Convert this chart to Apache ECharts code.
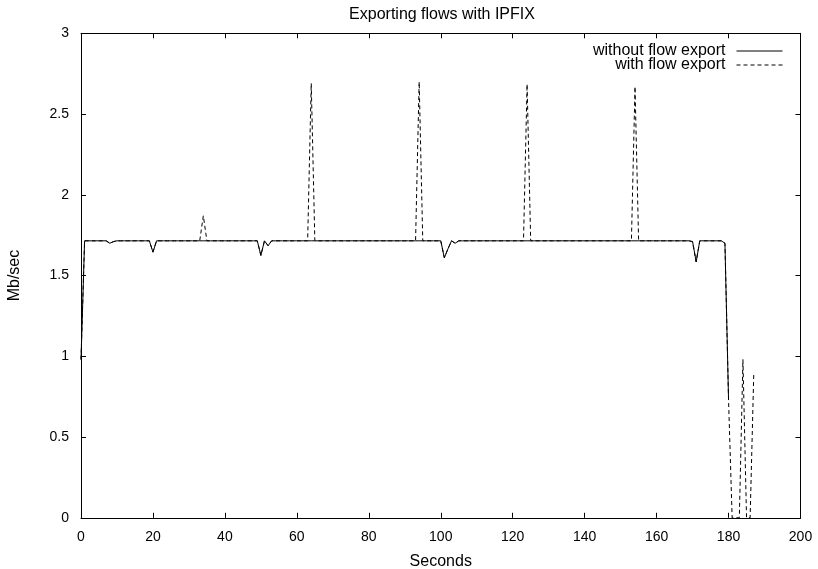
<!DOCTYPE html>
<html>
<head>
<meta charset="utf-8">
<script src="https://cdn.jsdelivr.net/npm/echarts@6/dist/echarts.min.js"></script>
<style>
html,body{margin:0;padding:0;background:#fff;}
#chart{width:818px;height:569px;}
</style>
</head>
<body>
<div id="chart"></div>
<script>
// Throughput (Mb/sec), one sample per second starting at 0 s
var withoutExport = [
  0.98,1.715,1.715,1.715,1.715,1.715,1.715,1.715,1.70,1.71,
  1.715,1.715,1.715,1.715,1.715,1.715,1.715,1.715,1.715,1.715,
  1.645,1.715,1.715,1.715,1.715,1.715,1.715,1.715,1.715,1.715,
  1.715,1.715,1.715,1.715,1.715,1.715,1.715,1.715,1.715,1.715,
  1.715,1.715,1.715,1.715,1.715,1.715,1.715,1.715,1.715,1.715,
  1.625,1.715,1.685,1.715,1.715,1.715,1.715,1.715,1.715,1.715,
  1.715,1.715,1.715,1.715,1.715,1.715,1.715,1.715,1.715,1.715,
  1.715,1.715,1.715,1.715,1.715,1.715,1.715,1.715,1.715,1.715,
  1.715,1.715,1.715,1.715,1.715,1.715,1.715,1.715,1.715,1.715,
  1.715,1.715,1.715,1.715,1.715,1.715,1.715,1.715,1.715,1.715,
  1.715,1.61,1.665,1.715,1.70,1.715,1.715,1.715,1.715,1.715,
  1.715,1.715,1.715,1.715,1.715,1.715,1.715,1.715,1.715,1.715,
  1.715,1.715,1.715,1.715,1.715,1.715,1.715,1.715,1.715,1.715,
  1.715,1.715,1.715,1.715,1.715,1.715,1.715,1.715,1.715,1.715,
  1.715,1.715,1.715,1.715,1.715,1.715,1.715,1.715,1.715,1.715,
  1.715,1.715,1.715,1.715,1.715,1.715,1.715,1.715,1.715,1.715,
  1.715,1.715,1.715,1.715,1.715,1.715,1.715,1.715,1.715,1.715,
  1.71,1.585,1.715,1.715,1.715,1.715,1.715,1.715,1.715,1.70,
  0.73
];
var withExport = [
  0.98,1.715,1.715,1.715,1.715,1.715,1.715,1.715,1.70,1.71,
  1.715,1.715,1.715,1.715,1.715,1.715,1.715,1.715,1.715,1.715,
  1.645,1.715,1.715,1.715,1.715,1.715,1.715,1.715,1.715,1.715,
  1.715,1.715,1.715,1.715,1.87,1.715,1.715,1.715,1.715,1.715,
  1.715,1.715,1.715,1.715,1.715,1.715,1.715,1.715,1.715,1.715,
  1.625,1.715,1.685,1.715,1.715,1.715,1.715,1.715,1.715,1.715,
  1.715,1.715,1.715,1.715,2.69,1.715,1.715,1.715,1.715,1.715,
  1.715,1.715,1.715,1.715,1.715,1.715,1.715,1.715,1.715,1.715,
  1.715,1.715,1.715,1.715,1.715,1.715,1.715,1.715,1.715,1.715,
  1.715,1.715,1.715,1.715,2.70,1.715,1.715,1.715,1.715,1.715,
  1.715,1.61,1.665,1.715,1.70,1.715,1.715,1.715,1.715,1.715,
  1.715,1.715,1.715,1.715,1.715,1.715,1.715,1.715,1.715,1.715,
  1.715,1.715,1.715,1.715,2.685,1.715,1.715,1.715,1.715,1.715,
  1.715,1.715,1.715,1.715,1.715,1.715,1.715,1.715,1.715,1.715,
  1.715,1.715,1.715,1.715,1.715,1.715,1.715,1.715,1.715,1.715,
  1.715,1.715,1.715,1.715,2.67,1.715,1.715,1.715,1.715,1.715,
  1.715,1.715,1.715,1.715,1.715,1.715,1.715,1.715,1.715,1.715,
  1.71,1.585,1.715,1.715,1.715,1.715,1.715,1.715,1.715,1.70,
  0.73,0,0,0,0.98,0,0,0.885
];
var seriesNames = ['without flow export', 'with flow export'];
var xTicks = {min: 0, max: 200, interval: 20};
var yTicks = {min: 0, max: 3, interval: 0.5};

function pairs(arr) { return arr.map(function (v, i) { return [i, v]; }); }

var FONT = '"Liberation Sans", Arial, Helvetica, sans-serif';
var black = '#000';
var chart = echarts.init(document.getElementById('chart'), null, {renderer: 'canvas'});
var tick = {show: true, inside: true, length: 5, lineStyle: {color: black, width: 1}};
var line = {show: true, onZero: false, lineStyle: {color: black, width: 1}};

chart.setOption({
  animation: false,
  backgroundColor: '#fff',
  title: {
    text: 'Exporting flows with IPFIX',
    left: 437, top: 2, textAlign: 'center',
    textStyle: {fontFamily: FONT, fontSize: 16, fontWeight: 'normal', color: black}
  },
  legend: {
    data: seriesNames,
    orient: 'vertical',
    right: 30, top: 38,
    align: 'right',
    itemWidth: 46, itemHeight: 10, itemGap: -2,
    itemStyle: {color: 'rgba(0,0,0,0)', borderColor: 'rgba(0,0,0,0)', borderWidth: 0},
    lineStyle: {width: 1},
    textStyle: {fontFamily: FONT, fontSize: 16, color: black, padding: [0, 6, 0, 0]}
  },
  grid: {left: 81, right: 17.5, top: 33.3, bottom: 51.2, containLabel: false, outerBoundsMode: 'none'},
  xAxis: [{
    type: 'value', position: 'bottom',
    min: xTicks.min, max: xTicks.max, interval: xTicks.interval,
    axisLine: line, axisTick: tick, splitLine: {show: false},
    axisLabel: {fontFamily: FONT, fontSize: 14, color: black, margin: 12},
    name: 'Seconds', nameLocation: 'middle', nameGap: 36,
    nameTextStyle: {fontFamily: FONT, fontSize: 16, color: black}
  }, {
    type: 'value', position: 'top',
    min: xTicks.min, max: xTicks.max, interval: xTicks.interval,
    axisLine: line, axisTick: tick, splitLine: {show: false},
    axisLabel: {show: false}
  }],
  yAxis: [{
    type: 'value', position: 'left',
    min: yTicks.min, max: yTicks.max, interval: yTicks.interval,
    axisLine: line, axisTick: tick, splitLine: {show: false},
    axisLabel: {fontFamily: FONT, fontSize: 14, color: black, margin: 12},
    name: 'Mb/sec', nameLocation: 'middle', nameGap: 58, nameRotate: 90,
    nameTextStyle: {fontFamily: FONT, fontSize: 16, color: black}
  }, {
    type: 'value', position: 'right',
    min: yTicks.min, max: yTicks.max, interval: yTicks.interval,
    axisLine: line, axisTick: tick, splitLine: {show: false},
    axisLabel: {show: false}
  }],
  series: [{
    name: seriesNames[0], type: 'line', xAxisIndex: 0, yAxisIndex: 0,
    data: pairs(withoutExport), symbol: 'none', showSymbol: false,
    lineStyle: {color: black, width: 1, type: 'solid'},
    itemStyle: {color: black}
  }, {
    name: seriesNames[1], type: 'line', xAxisIndex: 0, yAxisIndex: 0,
    data: pairs(withExport), symbol: 'none', showSymbol: false,
    lineStyle: {color: black, width: 1, type: [4, 3]},
    itemStyle: {color: black}
  }]
});
</script>
</body>
</html>
